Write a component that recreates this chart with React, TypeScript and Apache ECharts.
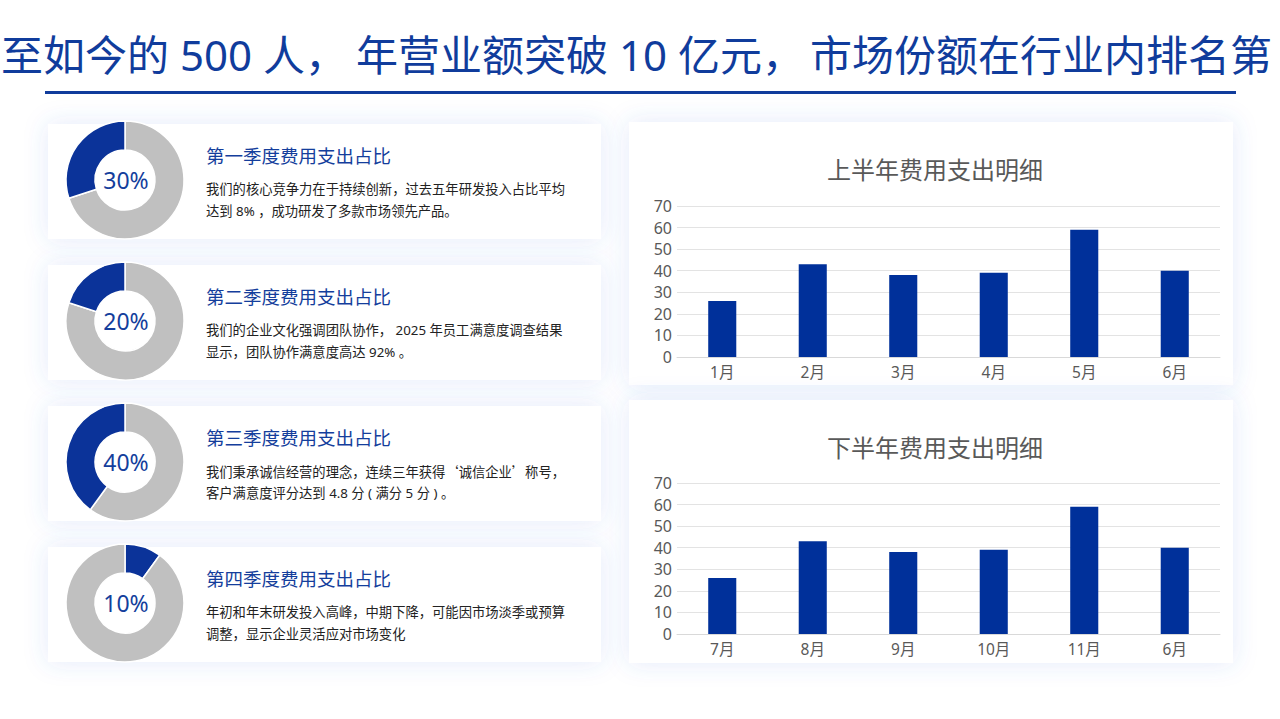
import React, { useEffect, useRef } from "react";
import * as echarts from "echarts";

const headlineParts = ["至如今的 500 人，", "年营业额突破 10 亿元，", "市场份额在行业内排名第"];

const quarterTitles = ["第一季度费用支出占比", "第二季度费用支出占比", "第三季度费用支出占比", "第四季度费用支出占比"];
const quarterShares = [30, 20, 40, 10];
const quarterBlueFirst = [false, false, false, true];
const quarterTexts = [
  ["我们的核心竞争力在于持续创新，过去五年研发投入占比平均", "达到 8% ，成功研发了多款市场领先产品。"],
  ["我们的企业文化强调团队协作， 2025 年员工满意度调查结果", "显示，团队协作满意度高达 92% 。"],
  ["我们秉承诚信经营的理念，连续三年获得‘诚信企业’称号，", "客户满意度评分达到 4.8 分 ( 满分 5 分 ) 。"],
  ["年初和年末研发投入高峰，中期下降，可能因市场淡季或预算", "调整，显示企业灵活应对市场变化"],
];

const chartTitles = ["上半年费用支出明细", "下半年费用支出明细"];
const firstHalfMonths = ["1月", "2月", "3月", "4月", "5月", "6月"];
const firstHalfValues = [26, 43, 38, 39, 59, 40];
const secondHalfMonths = ["7月", "8月", "9月", "10月", "11月", "6月"];
const secondHalfValues = [26, 43, 38, 39, 59, 40];
const yTicks = [0, 70, 10];

const BLUE = "#0b3399";
const GREY = "#c0c0c0";
const FONT = "'Noto Sans', 'Noto Sans CJK SC', sans-serif";
const CJK_FONT = "'Noto Sans CJK SC', 'Noto Sans', sans-serif";

export default function App() {
  const ref = useRef<HTMLDivElement>(null);
  useEffect(() => {
    if (!ref.current) return;
    const chart = echarts.init(ref.current, null, { renderer: "svg" });

    const graphic: any[] = [];
    const headlineX = [1, 356, 810];
    headlineParts.forEach((p, i) => {
      graphic.push({
        type: "text",
        x: headlineX[i],
        y: 54,
        style: { text: p, font: `42px ${FONT}`, fill: "#103c9c", textVerticalAlign: "middle" },
      });
    });
    graphic.push({ type: "rect", shape: { x: 45, y: 91, width: 1191, height: 3 }, style: { fill: "#103c9c" } });

    const cardTop0 = 124;
    const step = 141;
    quarterTitles.forEach((t, i) => {
      const top = cardTop0 + i * step;
      graphic.push({
        type: "rect",
        z: -10,
        shape: { x: 48, y: top, width: 553, height: 115 },
        style: { fill: "#fff", shadowBlur: 24, shadowColor: "rgba(70,110,220,0.15)" },
      });
      graphic.push({
        type: "text",
        x: 126,
        y: top + 56,
        style: { text: quarterShares[i] + "%", font: `23px ${FONT}`, fill: "#143e9c", textAlign: "center", textVerticalAlign: "middle" },
      });
      graphic.push({
        type: "text",
        x: 206,
        y: top + 31,
        style: { text: t, font: `18.5px ${FONT}`, fill: "#143e9c", textVerticalAlign: "middle" },
      });
      quarterTexts[i].forEach((line, j) => {
        const hasQuote = line.indexOf("‘") >= 0;
        graphic.push({
          type: "text",
          x: 206,
          y: top + 65 + j * 22,
          style: { text: line, font: `13.3px ${hasQuote ? CJK_FONT : FONT}`, fill: "#222", textVerticalAlign: "middle" },
        });
      });
    });

    const chartCards = [122, 400];
    chartCards.forEach((top, i) => {
      graphic.push({
        type: "rect",
        z: -10,
        shape: { x: 629, y: top, width: 604, height: 263 },
        style: { fill: "#fff", shadowBlur: 24, shadowColor: "rgba(70,110,220,0.15)" },
      });
      graphic.push({
        type: "text",
        x: 935,
        y: top + 47,
        style: { text: chartTitles[i], font: `24px ${FONT}`, fill: "#595959", textAlign: "center", textVerticalAlign: "middle" },
      });
    });

    const pieSeries = quarterShares.map((v, i) => {
      const blue = { value: v, name: "支出", itemStyle: { color: BLUE } };
      const grey = { value: 100 - v, name: "其他", itemStyle: { color: GREY } };
      return {
        type: "pie",
        center: [125, cardTop0 + 56 + i * step],
        radius: [30, 59],
        startAngle: 90,
        clockwise: true,
        label: { show: false },
        labelLine: { show: false },
        silent: true,
        itemStyle: { borderColor: "#fff", borderWidth: 1.5 },
        data: quarterBlueFirst[i] ? [blue, grey] : [grey, blue],
      };
    });

    const grids = [
      { left: 677, right: 60, top: 206, bottom: 719 - 357 },
      { left: 677, right: 60, top: 483, bottom: 719 - 634 },
    ];
    const cats = [firstHalfMonths, secondHalfMonths];
    const vals = [firstHalfValues, secondHalfValues];

    chart.setOption({
      animation: false,
      backgroundColor: "#fff",
      textStyle: { fontFamily: FONT },
      graphic,
      grid: grids,
      xAxis: cats.map((c, i) => ({
        type: "category",
        gridIndex: i,
        data: c,
        axisLine: { show: true, lineStyle: { color: "#d9d9d9" } },
        axisTick: { show: false },
        axisLabel: { color: "#595959", fontSize: 15.5, margin: 7, fontFamily: FONT },
      })),
      yAxis: cats.map((_, i) => ({
        type: "value",
        gridIndex: i,
        min: yTicks[0],
        max: yTicks[1],
        interval: yTicks[2],
        axisLine: { show: false },
        axisTick: { show: false },
        axisLabel: { color: "#595959", fontSize: 16, margin: 5, fontFamily: FONT },
        splitLine: { lineStyle: { color: "#e3e3e3" } },
      })),
      series: [
        ...pieSeries,
        ...vals.map((v, i) => ({
          type: "bar",
          xAxisIndex: i,
          yAxisIndex: i,
          data: v,
          barWidth: "31%",
          itemStyle: { color: "#00309a" },
          silent: true,
        })),
      ],
    });
    return () => chart.dispose();
  }, []);
  return <div ref={ref} style={{ position: "fixed", left: 0, top: 0, width: 1280, height: 719 }} />;
}
